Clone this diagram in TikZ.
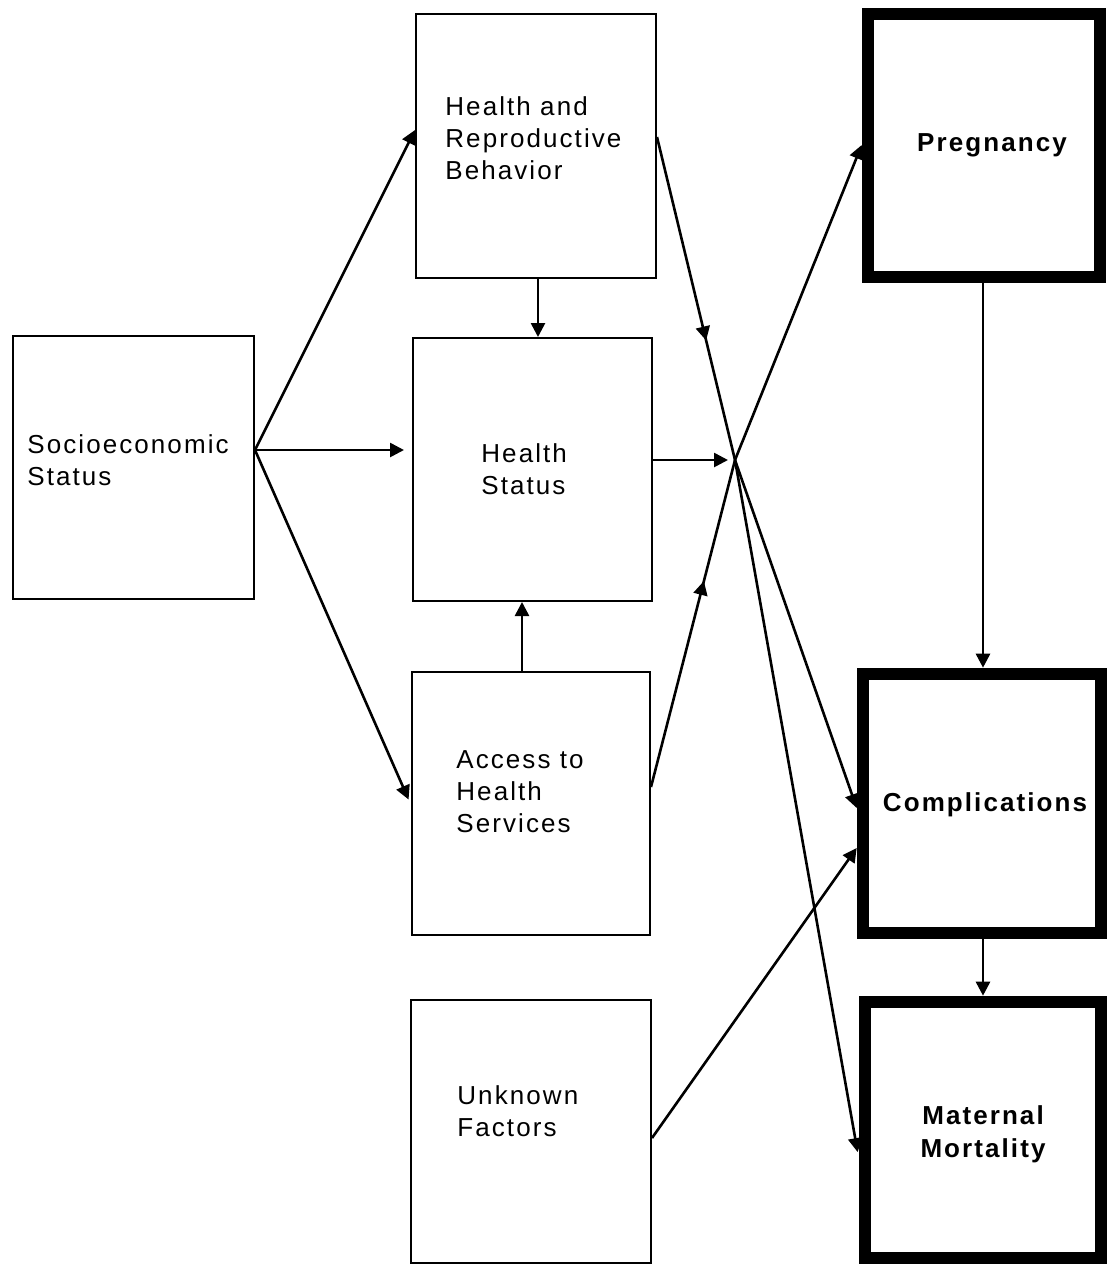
\documentclass[tikz,border=0pt]{standalone}
\usepackage{fontspec}
\setmainfont{Liberation Sans}[LetterSpace=8]
\newfontfamily\boldlab{Liberation Sans}[LetterSpace=8]
\usetikzlibrary{arrows.meta,decorations.markings}
\begin{document}
\begin{tikzpicture}[x=0.5pt,y=-0.5pt,
  thinbox/.style={draw, line width=1pt, rectangle, inner sep=0pt},
  thickbox/.style={draw, line width=6.3pt, rectangle, inner sep=0pt},
  lab/.style={anchor=west, align=left, inner sep=0pt, font=\fontsize{13}{16}\selectfont},
  blab/.style={align=center, inner sep=0pt, font=\boldlab\bfseries\fontsize{13}{16.5}\selectfont},
  tip/.tip={Triangle[length=7pt,width=7pt]},
  conn/.style={line width=1.3pt, -tip},
  connmid/.style={line width=1.3pt, postaction={decorate},
    decoration={markings, mark=at position 0.63 with {\arrow{tip}}}}]
\useasboundingbox (0,0) rectangle (1107,1265);

% boxes
\node[thinbox, minimum width=120.5pt, minimum height=131.5pt] (ses) at (133.5,467.5) {};
\node[thinbox, minimum width=120pt, minimum height=132pt] (hrb) at (536,146) {};
\node[thinbox, minimum width=119.5pt, minimum height=131.5pt] (hs) at (532.5,469.5) {};
\node[thinbox, minimum width=119pt, minimum height=131.5pt] (ahs) at (531,803.5) {};
\node[thinbox, minimum width=120pt, minimum height=131.5pt] (uf) at (531,1131.5) {};
\node[thickbox, minimum width=116pt, minimum height=131.5pt] (preg) at (984,145.5) {};
\node[thickbox, minimum width=119pt, minimum height=129.5pt] (comp) at (982,803.5) {};
\node[thickbox, minimum width=118pt, minimum height=128pt] (mm) at (983,1130) {};

% labels
\node[lab] (sesT) at (27,460) {Socioeconomic\\Status};
\node[lab] (hrbT) at (445,138) {Health and\\Reproductive\\Behavior};
\node[lab] (hsT) at (481,469) {Health\\Status};
\node[lab] (ahsT) at (456,792) {Access to\\Health\\Services};
\node[lab] (ufT) at (457,1111) {Unknown\\Factors};
\node[blab] (pregT) at (992,145) {Pregnancy};
\node[blab] (compT) at (985,805) {Complications};
\node[blab] (mmT) at (983,1134) {Maternal\\Mortality};

% convergence point
\coordinate (X) at (735,460);

% connectors
\draw[conn] (ses.east |- 0,450) -- (hrb.west |- 0,130);
\draw[conn, shorten >=4pt] (ses.east |- 0,450) -- (hs.west |- 0,450);
\draw[conn, shorten >=3pt] (ses.east |- 0,450) -- (ahs.west |- 0,805);
\draw[conn] (hrb.south -| 538,0) -- (hs.north -| 538,0);
\draw[conn] (ahs.north -| 522,0) -- (hs.south -| 522,0);
\draw[conn, shorten >=3.5pt] (hs.east |- X) -- (X);
\draw[connmid] (hrb.east |- 0,137) -- (X);
\draw[connmid] (ahs.east |- 0,787) -- (X);
\draw[conn] (X) -- (preg.west |- 0,145);
\draw[conn] (X) -- (comp.west |- 0,808);
\draw[conn, shorten >=3pt] (X) -- (mm.west |- 0,1158);
\draw[conn] (uf.east |- 0,1138) -- (comp.west |- 0,848);
\draw[conn] (preg.south -| 983,0) -- (comp.north -| 983,0);
\draw[conn] (comp.south -| 983,0) -- (mm.north -| 983,0);
\end{tikzpicture}
\end{document}
